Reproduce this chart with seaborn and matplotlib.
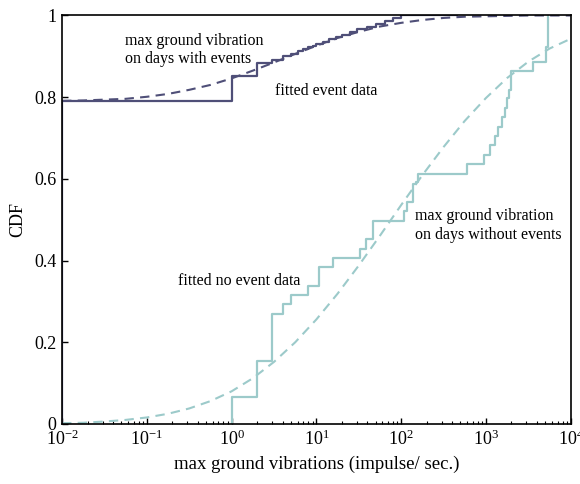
import matplotlib
matplotlib.use("Agg")
import matplotlib.pyplot as plt
import seaborn as sns
import numpy as np
import pandas as pd

# empirical CDF, days with events (step positions and levels)
event_x = [0.01, 0.01, 1, 2, 3, 4, 5, 6, 7, 8, 9, 10, 12, 14, 17, 20, 25, 30, 40, 50, 65, 80, 100, 450]
event_cdf = [0, 0.79, 0.852, 0.883, 0.891, 0.900, 0.906, 0.912, 0.918, 0.922, 0.926, 0.930,
             0.936, 0.942, 0.948, 0.953, 0.960, 0.966, 0.973, 0.980, 0.987, 0.993, 1.0, 1.0]

# empirical CDF, days without events
noevent_x = [1, 1, 2, 3, 4, 5, 8, 10.7, 15.8, 32.7, 38.5, 46, 108, 118, 139, 150, 159,
             592, 946, 1114, 1276, 1397, 1531, 1675, 1754, 1867, 1954, 3553, 5108, 5430]
noevent_cdf = [0, 0.066, 0.155, 0.269, 0.294, 0.316, 0.338, 0.384, 0.407, 0.428, 0.452, 0.498,
               0.522, 0.544, 0.588, 0.592, 0.612, 0.636, 0.659, 0.683, 0.705, 0.728, 0.752,
               0.773, 0.797, 0.818, 0.864, 0.887, 0.924, 1.0]

# fitted curves, read at quarter decades from 1e-2 to 1e4
fit_x = [10 ** (k / 4) for k in range(-8, 17)]
fit_event = [0.791, 0.792, 0.794, 0.796, 0.801, 0.808, 0.818, 0.830, 0.846, 0.865, 0.885,
             0.906, 0.926, 0.945, 0.960, 0.973, 0.982, 0.989, 0.994, 0.997, 0.998, 0.999,
             1.0, 1.0, 1.0]
fit_noevent = [0.002, 0.003, 0.006, 0.010, 0.016, 0.025, 0.038, 0.056, 0.080, 0.112, 0.152,
               0.200, 0.256, 0.319, 0.388, 0.461, 0.536, 0.609, 0.678, 0.742, 0.798, 0.847,
               0.887, 0.919, 0.943]

navy = "#4f4f78"
teal = "#9ccaca"

sns.set_theme(style="white")
plt.rcParams["font.family"] = ["Liberation Serif", "DejaVu Serif"]
plt.rcParams["mathtext.fontset"] = "stix"
plt.rcParams["text.color"] = "black"
plt.rcParams["axes.labelcolor"] = "black"

fig = plt.figure(figsize=(5.8, 4.84), dpi=100)
ax = fig.add_axes([0.107, 0.124, 0.877, 0.844])

sns.lineplot(x=fit_x, y=fit_noevent, color=teal, lw=1.5,
             linestyle=(0, (4.5, 3)), estimator=None, sort=False, ax=ax)
sns.lineplot(x=fit_x, y=fit_event, color=navy, lw=1.5,
             linestyle=(0, (4.5, 3)), estimator=None, sort=False, ax=ax)
sns.lineplot(x=noevent_x, y=noevent_cdf, color=teal, lw=1.6, drawstyle="steps-post",
             estimator=None, sort=False, ax=ax)
sns.lineplot(x=event_x, y=event_cdf, color=navy, lw=1.6, drawstyle="steps-post",
             estimator=None, sort=False, ax=ax)

ax.set_xscale("log")
ax.set_xlim(1e-2, 1e4)
ax.set_ylim(0, 1)
ax.set_yticks([0, 0.2, 0.4, 0.6, 0.8, 1])
ax.set_yticklabels(["0", "0.2", "0.4", "0.6", "0.8", "1"])
ax.tick_params(axis="both", which="both", direction="in", bottom=True, left=True,
               top=False, right=False, labelsize=13, colors="black", pad=4)
ax.tick_params(which="major", length=4, width=1)
ax.tick_params(which="minor", length=2, width=0.8)
for s in ax.spines.values():
    s.set_color("black")
    s.set_linewidth(1.2)

ax.set_xlabel("max ground vibrations (impulse/ sec.)", fontsize=13.5, labelpad=5)
ax.set_ylabel("CDF", fontsize=13, labelpad=6)

ax.text(0.055, 0.915, "max ground vibration\non days with events", fontsize=11.5,
        ha="left", va="center", linespacing=1.15)
ax.text(3.25, 0.815, "fitted event data", fontsize=11.5, ha="left", va="center")
ax.text(145, 0.487, "max ground vibration\non days without events", fontsize=11.5,
        ha="left", va="center", linespacing=1.25)
ax.text(0.236, 0.35, "fitted no event data", fontsize=11.5, ha="left", va="center")

fig.savefig("out.png", dpi=100)
plt.close(fig)
